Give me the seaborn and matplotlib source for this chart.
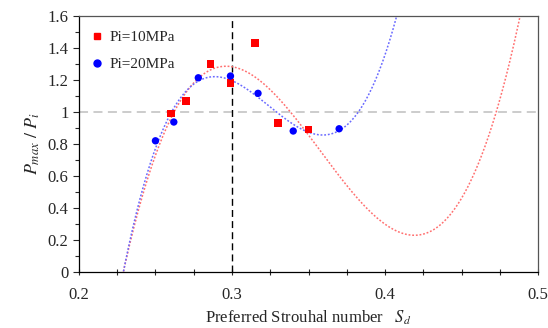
import numpy as np
import pandas as pd
import matplotlib
matplotlib.use("Agg")
import matplotlib.pyplot as plt
import seaborn as sns
from matplotlib.ticker import MultipleLocator, FuncFormatter
from matplotlib.lines import Line2D

# Data
sd_10 = [0.260, 0.270, 0.286, 0.299, 0.315, 0.330, 0.350]
p_10 = [0.99, 1.07, 1.30, 1.18, 1.43, 0.93, 0.89]
sd_20 = [0.250, 0.262, 0.278, 0.299, 0.317, 0.340, 0.370]
p_20 = [0.82, 0.937, 1.213, 1.224, 1.116, 0.881, 0.895]
labels = ["Pi=10MPa", "Pi=20MPa"]
x_ticks = [0.2, 0.3, 0.4, 0.5]
y_ticks = [0, 0.2, 0.4, 0.6, 0.8, 1.0, 1.2, 1.4, 1.6]

df10 = pd.DataFrame({"Sd": sd_10, "P": p_10})
df20 = pd.DataFrame({"Sd": sd_20, "P": p_20})

sns.set_style("white")
plt.rcParams["font.family"] = ["Liberation Serif", "DejaVu Serif"]
plt.rcParams["mathtext.fontset"] = "stix"

fig = plt.figure(figsize=(5.48, 3.28), dpi=100)
ax = fig.add_axes([0.144, 0.170, 0.838, 0.782])
ax.set_xlim(0.2, 0.5)
ax.set_ylim(0, 1.6)

ax.axhline(1.0, color="#c8c8c8", lw=1.3, ls=(0, (5, 3)), zorder=1)
ax.axvline(0.3, color="black", lw=1.0, ls=(0, (5, 3)), zorder=1)

xs = np.linspace(0.2, 0.5, 400)
c10 = np.polyfit(sd_10, p_10, 3)
c20 = np.polyfit(sd_20, p_20, 3)
fit = pd.DataFrame({"Sd": np.concatenate([xs, xs]),
                    "P": np.concatenate([np.polyval(c10, xs), np.polyval(c20, xs)]),
                    "s": [labels[0]] * len(xs) + [labels[1]] * len(xs)})
sns.lineplot(data=fit, x="Sd", y="P", hue="s", palette=["#ff7070", "#6a6aff"],
             ax=ax, legend=False, lw=1.1, linestyle=(0, (1.2, 1.2)), zorder=2)

sns.scatterplot(data=df10, x="Sd", y="P", ax=ax, marker="s", color="#ff0000",
                s=30, edgecolor="none", zorder=4)
sns.scatterplot(data=df20, x="Sd", y="P", ax=ax, marker="o", color="#0000ff",
                s=28, edgecolor="none", zorder=4)

handles = [Line2D([], [], marker="s", color="#ff0000", ls="none", ms=5),
           Line2D([], [], marker="o", color="#0000ff", ls="none", ms=5)]
ax.legend(handles, labels, loc="upper left", frameon=False, fontsize=11,
          handlelength=0.8, handletextpad=0.4, borderaxespad=0.4, labelspacing=0.85,
          bbox_to_anchor=(0.0, 0.99))

ax.set_xticks(x_ticks)
ax.set_yticks(y_ticks)
ax.xaxis.set_minor_locator(MultipleLocator(0.025))
ax.yaxis.set_minor_locator(MultipleLocator(0.1))
ax.xaxis.set_major_formatter(FuncFormatter(lambda v, p: f"{v:g}"))
ax.yaxis.set_major_formatter(FuncFormatter(lambda v, p: f"{v:g}"))
ax.tick_params(axis="x", which="both", direction="inout", length=5, width=0.8,
               labelsize=12, pad=8, bottom=True)
ax.tick_params(axis="y", which="major", direction="out", length=4, width=0.8,
               labelsize=12, left=True)
ax.tick_params(axis="y", which="minor", direction="out", length=3, width=0.8, left=True)

for side, sp in ax.spines.items():
    sp.set_visible(True)
    sp.set_linewidth(0.9)
    sp.set_color("black" if side in ("left", "bottom") else "#555555")

ax.set_xlabel(r"Preferred Strouhal number   $S_d$", fontsize=12, labelpad=4)
ax.set_ylabel(r"$P_{max}\ /\ P_i$", fontsize=13, labelpad=4)

fig.savefig("out.png", dpi=100)
